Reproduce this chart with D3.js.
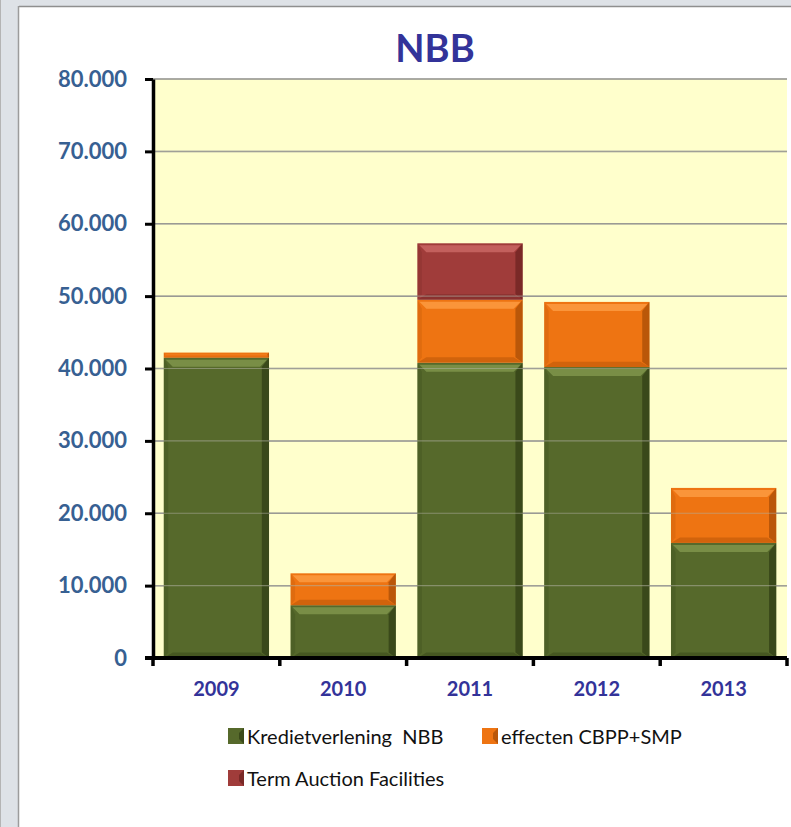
<!DOCTYPE html>
<html>
<head>
<meta charset="utf-8">
<script src="https://cdn.jsdelivr.net/npm/d3@7"></script>
<style>
  body { margin: 0; background: #ffffff; }
  svg { display: block; }
</style>
</head>
<body>
<div id="chart"></div>
<script>
// data (values in the chart's units)
var years = ["2009", "2010", "2011", "2012", "2013"];
var kredietverlening = [41500, 7300, 40800, 40200, 15900];
var effecten = [700, 4400, 8700, 9000, 7600];
var termAuction = [0, 0, 7800, 0, 0];
var seriesNames = ["Kredietverlening  NBB", "effecten CBPP+SMP", "Term Auction Facilities"];
var yTicks = [0, 10000, 20000, 30000, 40000, 50000, 60000, 70000, 80000];

var W = 791, H = 827;
var margin = {left: 153, right: 4, top: 79, bottom: 169};
var width = W - margin.left - margin.right,
    height = H - margin.top - margin.bottom;

var colors = ["#56692b", "#ee7412", "#a03c3a"];
var light  = ["#7f954b", "#fb9b42", "#c96664"];
var dark   = ["#2f3c14", "#a44c06", "#6a2120"];

var svg = d3.select("#chart")
  .append("svg")
    .attr("width", W)
    .attr("height", H);

// window frame (left + top grey strip)
svg.append("rect").attr("x", 0).attr("y", 0).attr("width", W).attr("height", 6).attr("fill", "#dee2e7");
svg.append("rect").attr("x", 0).attr("y", 0).attr("width", 19).attr("height", H).attr("fill", "#dee2e7");
svg.append("line").attr("x1", 19).attr("x2", W).attr("y1", 6.5).attr("y2", 6.5).attr("stroke", "#8f8f8f").attr("stroke-width", 1.5);
svg.append("line").attr("x1", 18.5).attr("x2", 18.5).attr("y1", 6).attr("y2", H).attr("stroke", "#9c9c9c").attr("stroke-width", 1.5);
svg.append("line").attr("x1", 0.5).attr("x2", 0.5).attr("y1", 0).attr("y2", H).attr("stroke", "#b4b4b4");

// title
svg.append("text")
  .attr("x", 435)
  .attr("y", 62)
  .attr("text-anchor", "middle")
  .style("font-family", "Lato, 'Open Sans', sans-serif")
  .style("font-weight", "bold")
  .style("font-size", "38px")
  .style("fill", "#333399")
  .text("NBB");

var g = svg.append("g")
  .attr("transform", "translate(" + margin.left + "," + margin.top + ")");

var x = d3.scaleBand()
  .domain(years)
  .range([0, width])
  .paddingInner(0.17)
  .paddingOuter(0.085);

var y = d3.scaleLinear()
  .domain([0, 80000])
  .range([height, 0]);

// plot background
g.append("rect")
  .attr("x", 0).attr("y", y(80000))
  .attr("width", width).attr("height", y(0) - y(80000))
  .attr("fill", "#ffffcc");

// gridlines
g.append("g")
  .selectAll("line")
  .data(yTicks.slice(1))
  .enter().append("line")
    .attr("x1", 0).attr("x2", width)
    .attr("y1", function(d) { return y(d); })
    .attr("y2", function(d) { return y(d); })
    .attr("stroke", "#8c8c8c")
    .attr("stroke-width", 1.5);

// stack data
var rows = years.map(function(yr, i) {
  return {year: yr, k: kredietverlening[i], e: effecten[i], t: termAuction[i]};
});
var stackedData = d3.stack().keys(["k", "e", "t"])(rows);

// bevelled bars
var layers = g.append("g")
  .selectAll("g")
  .data(stackedData)
  .enter().append("g");

layers.each(function(layer, li) {
  var sel = d3.select(this);
  layer.forEach(function(d) {
    if (d[1] - d[0] <= 0) return;
    var x0 = x(d.data.year), bw = x.bandwidth();
    var yt = y(d[1]), yb = y(d[0]);
    var h = yb - yt;
    var bev = Math.min(9, h / 3);
    sel.append("rect")
      .attr("x", x0).attr("y", yt).attr("width", bw).attr("height", h)
      .attr("fill", colors[li]);
    // top highlight
    sel.append("polygon")
      .attr("points", [[x0 + 2, yt + 2], [x0 + bw - 2, yt + 2], [x0 + bw - bev, yt + bev], [x0 + bev, yt + bev]].join(" "))
      .attr("fill", light[li]).attr("opacity", 0.85);
    // bottom shade
    sel.append("polygon")
      .attr("points", [[x0, yb], [x0 + bw, yb], [x0 + bw - bev, yb - bev * 0.6], [x0 + bev, yb - bev * 0.6]].join(" "))
      .attr("fill", dark[li]).attr("opacity", 0.4);
    // right shade
    sel.append("polygon")
      .attr("points", [[x0 + bw, yt], [x0 + bw, yb], [x0 + bw - bev * 0.8, yb - bev * 0.6], [x0 + bw - bev * 0.8, yt + bev]].join(" "))
      .attr("fill", dark[li]).attr("opacity", 0.7);
    // left shade
    sel.append("polygon")
      .attr("points", [[x0, yt], [x0, yb], [x0 + bev * 0.5, yb - bev * 0.6], [x0 + bev * 0.5, yt + bev]].join(" "))
      .attr("fill", dark[li]).attr("opacity", 0.2);
  });
});

// faint gridlines across the bars
g.append("g")
  .selectAll("line")
  .data(yTicks.slice(1))
  .enter().append("line")
    .attr("x1", 0).attr("x2", width)
    .attr("y1", function(d) { return y(d); })
    .attr("y2", function(d) { return y(d); })
    .attr("stroke", "#b0b0a0")
    .attr("stroke-opacity", 0.55)
    .attr("stroke-width", 1.2);

// Y axis
var yAxis = g.append("g")
  .call(d3.axisLeft(y).tickValues(yTicks).tickSize(8).tickSizeOuter(0)
    .tickFormat(function(d) { return d === 0 ? "0" : d3.format(",")(d).replace(/,/g, "."); }));
yAxis.select(".domain").attr("stroke", "#000").attr("stroke-width", 3.5);
yAxis.selectAll(".tick line").attr("stroke", "#000").attr("stroke-width", 3);
yAxis.selectAll(".tick text")
  .attr("x", -26)
  .style("font-family", "Lato, 'Open Sans', sans-serif")
  .style("font-weight", "bold")
  .style("font-size", "22px")
  .style("fill", "#376092");

// X axis
var xAxis = g.append("g")
  .attr("transform", "translate(0," + height + ")")
  .call(d3.axisBottom(x).tickSize(0).tickSizeOuter(0));
xAxis.select(".domain").attr("stroke", "#000").attr("stroke-width", 4).attr("d", "M-8,0H" + width);
xAxis.selectAll(".tick text")
  .attr("y", 24)
  .style("font-family", "Lato, 'Open Sans', sans-serif")
  .style("font-weight", "bold")
  .style("font-size", "20px")
  .style("fill", "#333399");
// category separator ticks
xAxis.append("g")
  .selectAll("line")
  .data(years.concat(["end"]))
  .enter().append("line")
    .attr("x1", function(d, i) { return i * x.step(); })
    .attr("x2", function(d, i) { return i * x.step(); })
    .attr("y1", 0).attr("y2", 8)
    .attr("stroke", "#000").attr("stroke-width", 3.5);

// Handmade legend
var legend = [
  {name: seriesNames[0], x: 228, y: 736, c: 0},
  {name: seriesNames[1], x: 482, y: 736, c: 1},
  {name: seriesNames[2], x: 228, y: 778, c: 2}
];
legend.forEach(function(l) {
  svg.append("rect").attr("x", l.x).attr("y", l.y - 8).attr("width", 16).attr("height", 16).attr("fill", colors[l.c]);
  svg.append("polygon")
    .attr("points", [[l.x + 16, l.y - 8], [l.x + 16, l.y + 8], [l.x + 11, l.y + 3], [l.x + 11, l.y - 3]].join(" "))
    .attr("fill", dark[l.c]).attr("opacity", 0.7);
  svg.append("text")
    .attr("x", l.x + 19).attr("y", l.y)
    .attr("dominant-baseline", "central")
    .style("white-space", "pre")
    .style("font-family", "Lato, 'Open Sans', sans-serif")
    .style("font-size", "20px")
    .style("fill", "#111")
    .text(l.name);
});
</script>
</body>
</html>
